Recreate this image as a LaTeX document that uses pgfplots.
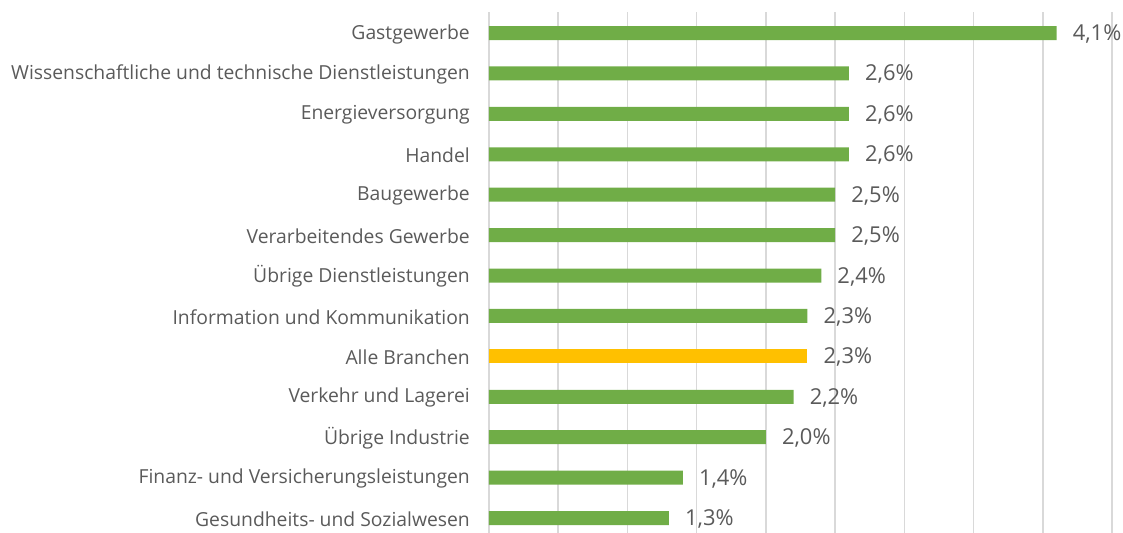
\documentclass[border=0pt]{standalone}
\usepackage{fontspec}
\setmainfont{Open Sans}
\usepackage{pgfplots}
\pgfplotsset{compat=1.18}
\definecolor{bargreen}{HTML}{70AD47}
\definecolor{baryellow}{HTML}{FFC000}
\definecolor{txt}{HTML}{5A5A5A}
\definecolor{gridc}{HTML}{D9D9D9}
\begin{document}
\begin{tikzpicture}
\path[use as bounding box] (-489bp,0) rectangle (634bp,533bp);
\begin{axis}[
  at={(0,0)}, anchor=south west,
  width=623bp, height=521bp, scale only axis,
  xbar, bar width=14bp, bar shift=0pt,
  xmin=0, xmax=4.5, ymin=-0.37, ymax=12.52,
  xtick={0,0.5,...,4.5}, xticklabels={},
  xmajorgrids, major grid style={gridc, line width=1.5bp},
  ytick={0,...,12},
  yticklabels={Gesundheits- und Sozialwesen, Finanz- und Versicherungsleistungen, Übrige Industrie, Verkehr und Lagerei, Alle Branchen, Information und Kommunikation, Übrige Dienstleistungen, Verarbeitendes Gewerbe, Baugewerbe, Handel, Energieversorgung, Wissenschaftliche und technische Dienstleistungen, Gastgewerbe},
  axis line style={draw=none}, major tick length=0pt,
  yticklabel style={font=\fontsize{19.4}{22}\selectfont, text=txt, anchor=east, inner sep=0pt, xshift=-19bp, yshift=-1bp},
  point meta=x,
  nodes near coords={\pgfmathprintnumber[fixed,fixed zerofill,precision=1,use comma,assume math mode=true]{\pgfplotspointmeta}\%},
  nodes near coords style={anchor=west, inner sep=0pt, xshift=16bp, yshift=-1bp, font=\fontsize{22}{25}\selectfont, text=txt},
]
\addplot[fill=bargreen, draw=none] coordinates {
  (1.3,0) (1.4,1) (2.0,2) (2.2,3) (2.3,5) (2.4,6) (2.5,7) (2.5,8) (2.6,9) (2.6,10) (2.6,11) (4.1,12)
};
\addplot[fill=baryellow, draw=none] coordinates {(2.3,4)};
\end{axis}
\end{tikzpicture}
\end{document}
